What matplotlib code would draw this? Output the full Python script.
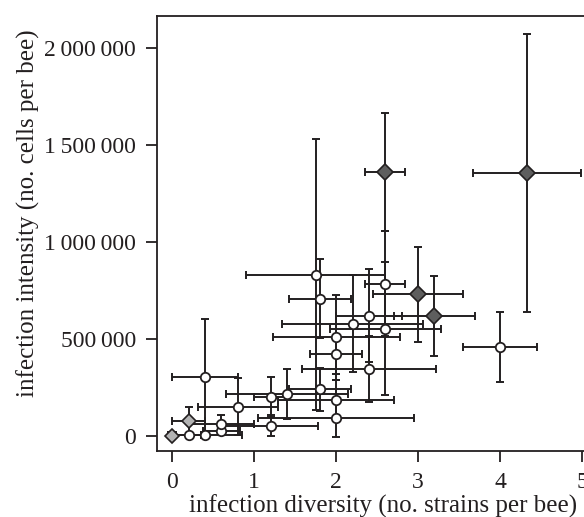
import matplotlib
matplotlib.use("Agg")
import matplotlib.pyplot as plt
from matplotlib.ticker import FixedLocator

plt.rcParams["font.family"] = ["Liberation Serif", "DejaVu Serif"]

# white circles
circ_x = [0.2, 0.4, 0.6, 0.6, 0.4, 0.8, 1.2, 1.2, 1.4, 1.8, 2.0, 2.0, 2.0, 2.0,
          2.4, 2.2, 2.4, 2.6, 2.6, 1.8, 1.75, 4.0]
circ_y = [2000, 5000, 25000, 62000, 303000, 150000, 52000, 201000, 215000, 239000,
          90000, 184000, 421000, 507000, 345000, 579000, 619000, 553000, 785000,
          708000, 832000, 459000]
circ_xerr = [0.15, 0.45, 0.22, 0.40, 0.40, 0.49, 0.58, 0.20, 0.745, 0.38, 0.95,
             0.71, 0.32, 0.775, 0.815, 0.856, 0.40, 0.68, 0.245, 0.375, 0.85, 0.45]
circ_yerr = [0, 8000, 20000, 43000, 300000, 147000, 55000, 103000, 128000, 113000,
             95000, 103000, 100000, 218000, 170000, 249000, 239000, 345000, 270000,
             206000, 700000, 181000]

# light grey diamonds
light_x = [0.0, 0.2]
light_y = [0, 75000]
light_xerr = [0.0, 0.2]
light_yerr = [0, 72000]

# dark grey diamonds
dark_x = [2.6, 4.33, 3.0, 3.2]
dark_y = [1360000, 1356000, 729000, 619000]
dark_xerr = [0.245, 0.66, 0.55, 0.49]
dark_yerr = [305000, 720000, 246000, 205000]

x_ticks = [0, 1, 2, 3, 4, 5]
y_ticks = [0, 500000, 1000000, 1500000, 2000000]
y_tick_labels = ["0", "500\u2009000", "1\u2009000\u2009000", "1\u2009500\u2009000",
                 "2\u2009000\u2009000"]

ink = "#231f20"

fig = plt.figure(figsize=(5.84, 5.17), dpi=100)
ax = fig.add_axes([157 / 584, 66.3 / 517, 443 / 584, 435 / 517])

err_kw = dict(fmt="none", ecolor=ink, elinewidth=1.4, capsize=2.6, capthick=1.4, zorder=1)
for xs, ys, xe, ye in [(circ_x, circ_y, circ_xerr, circ_yerr),
                       (light_x, light_y, light_xerr, light_yerr),
                       (dark_x, dark_y, dark_xerr, dark_yerr)]:
    ax.errorbar(xs, ys, xerr=xe, yerr=ye, **err_kw)

ax.plot(circ_x, circ_y, "o", ms=6.8, mfc="white", mec=ink, mew=1.3, zorder=3)
ax.plot(light_x, light_y, "D", ms=7.2, mfc="#b3b3b3", mec=ink, mew=1.2, zorder=3)
ax.plot(dark_x, dark_y, "D", ms=8.3, mfc="#5e5e5e", mec=ink, mew=1.2, zorder=3)

ax.set_xlim(-0.187, 5.22)
ax.set_ylim(-77400, 2168000)
ax.xaxis.set_major_locator(FixedLocator(x_ticks))
ax.set_xticklabels([str(t) for t in x_ticks])
ax.yaxis.set_major_locator(FixedLocator(y_ticks))
ax.set_yticklabels(y_tick_labels)

for sp in ax.spines.values():
    sp.set_linewidth(1.3)
    sp.set_color(ink)
ax.tick_params(direction="out", length=8, width=1.3, color=ink,
               labelsize=17, labelcolor=ink)
ax.tick_params(axis="x", pad=7)
ax.tick_params(axis="y", pad=7)

ax.set_xlabel("infection diversity (no. strains per bee)", fontsize=18, color=ink)
ax.set_ylabel("infection intensity (no. cells per bee)", fontsize=18, color=ink)
ax.xaxis.set_label_coords(0.51, -0.1)
ax.yaxis.set_label_coords(-0.265, 0.545)

fig.savefig("out.png", dpi=100)
